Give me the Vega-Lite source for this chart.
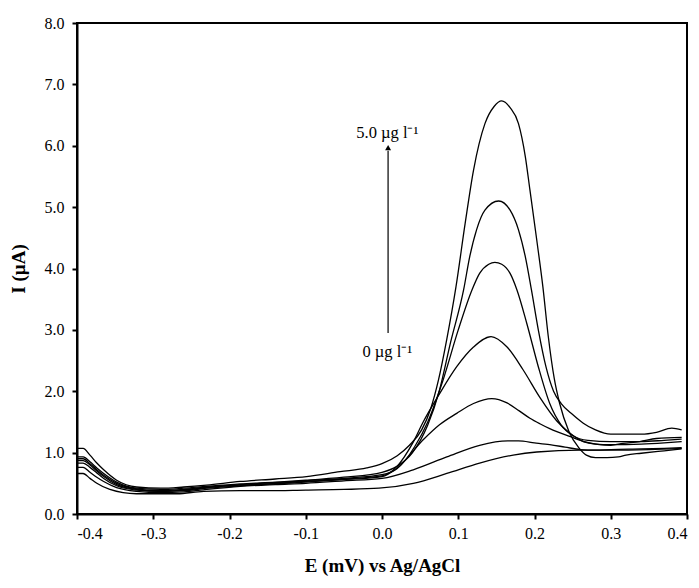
{
  "$schema": "https://vega.github.io/schema/vega-lite/v6.json",
  "width": 610,
  "height": 491,
  "autosize": "none",
  "padding": {"left": 77, "top": 23, "right": 12, "bottom": 74},
  "background": "white",
  "config": {
    "view": {"stroke": "black", "strokeWidth": 2},
    "font": "Liberation Serif",
    "axis": {
      "grid": false,
      "domainColor": "black",
      "domainWidth": 2,
      "tickColor": "black",
      "tickWidth": 2,
      "tickSize": 5,
      "labelFont": "Liberation Serif",
      "labelFontSize": 16,
      "labelColor": "black",
      "titleFont": "Liberation Serif",
      "titleFontSize": 19,
      "titleFontWeight": "bold",
      "titleColor": "black"
    }
  },
  "datasets": {
    "curves": [
      {"c":"C6","E":-0.4,"I":1.07},{"c":"C6","E":-0.392,"I":1.07},{"c":"C6","E":-0.383,"I":0.96},{"c":"C6","E":-0.374,"I":0.83},{"c":"C6","E":-0.365,"I":0.72},{"c":"C6","E":-0.348,"I":0.55},{"c":"C6","E":-0.322,"I":0.44},{"c":"C6","E":-0.29,"I":0.42},{"c":"C6","E":-0.26,"I":0.44},{"c":"C6","E":-0.23,"I":0.47},{"c":"C6","E":-0.186,"I":0.53},{"c":"C6","E":-0.14,"I":0.57},{"c":"C6","E":-0.099,"I":0.61},{"c":"C6","E":-0.055,"I":0.69},{"c":"C6","E":-0.02,"I":0.75},{"c":"C6","E":0.0,"I":0.82},{"c":"C6","E":0.02,"I":0.95},{"c":"C6","E":0.036,"I":1.12},{"c":"C6","E":0.052,"I":1.37},{"c":"C6","E":0.064,"I":1.72},{"c":"C6","E":0.074,"I":2.18},{"c":"C6","E":0.085,"I":2.85},{"c":"C6","E":0.097,"I":3.7},{"c":"C6","E":0.109,"I":4.73},{"c":"C6","E":0.12,"I":5.6},{"c":"C6","E":0.135,"I":6.36},{"c":"C6","E":0.147,"I":6.64},{"c":"C6","E":0.157,"I":6.73},{"c":"C6","E":0.168,"I":6.62},{"c":"C6","E":0.179,"I":6.36},{"c":"C6","E":0.188,"I":5.82},{"c":"C6","E":0.194,"I":5.28},{"c":"C6","E":0.203,"I":4.46},{"c":"C6","E":0.211,"I":3.7},{"c":"C6","E":0.218,"I":2.9},{"c":"C6","E":0.226,"I":2.2},{"c":"C6","E":0.233,"I":1.8},{"c":"C6","E":0.245,"I":1.35},{"c":"C6","E":0.258,"I":1.08},{"c":"C6","E":0.268,"I":0.96},{"c":"C6","E":0.28,"I":0.92},{"c":"C6","E":0.295,"I":0.92},{"c":"C6","E":0.31,"I":0.93},{"c":"C6","E":0.32,"I":0.96},{"c":"C6","E":0.34,"I":0.99},{"c":"C6","E":0.37,"I":1.03},{"c":"C6","E":0.393,"I":1.06},

      {"c":"C5","E":-0.4,"I":0.93},{"c":"C5","E":-0.392,"I":0.93},{"c":"C5","E":-0.383,"I":0.85},{"c":"C5","E":-0.374,"I":0.75},{"c":"C5","E":-0.365,"I":0.66},{"c":"C5","E":-0.348,"I":0.52},{"c":"C5","E":-0.322,"I":0.42},{"c":"C5","E":-0.29,"I":0.4},{"c":"C5","E":-0.26,"I":0.42},{"c":"C5","E":-0.23,"I":0.45},{"c":"C5","E":-0.186,"I":0.49},{"c":"C5","E":-0.14,"I":0.52},{"c":"C5","E":-0.1,"I":0.55},{"c":"C5","E":-0.05,"I":0.6},{"c":"C5","E":0.0,"I":0.68},{"c":"C5","E":0.02,"I":0.78},{"c":"C5","E":0.04,"I":1.0},{"c":"C5","E":0.06,"I":1.45},{"c":"C5","E":0.075,"I":2.0},{"c":"C5","E":0.09,"I":2.8},{"c":"C5","E":0.107,"I":3.65},{"c":"C5","E":0.115,"I":4.19},{"c":"C5","E":0.124,"I":4.63},{"c":"C5","E":0.135,"I":4.95},{"c":"C5","E":0.153,"I":5.1},{"c":"C5","E":0.168,"I":4.95},{"c":"C5","E":0.179,"I":4.63},{"c":"C5","E":0.188,"I":4.19},{"c":"C5","E":0.196,"I":3.65},{"c":"C5","E":0.205,"I":3.0},{"c":"C5","E":0.215,"I":2.4},{"c":"C5","E":0.225,"I":2.0},{"c":"C5","E":0.235,"I":1.8},{"c":"C5","E":0.25,"I":1.62},{"c":"C5","E":0.264,"I":1.48},{"c":"C5","E":0.28,"I":1.37},{"c":"C5","E":0.3,"I":1.3},{"c":"C5","E":0.34,"I":1.3},{"c":"C5","E":0.36,"I":1.33},{"c":"C5","E":0.38,"I":1.4},{"c":"C5","E":0.393,"I":1.37},

      {"c":"C4","E":-0.4,"I":0.9},{"c":"C4","E":-0.392,"I":0.9},{"c":"C4","E":-0.383,"I":0.82},{"c":"C4","E":-0.374,"I":0.72},{"c":"C4","E":-0.365,"I":0.63},{"c":"C4","E":-0.348,"I":0.5},{"c":"C4","E":-0.322,"I":0.41},{"c":"C4","E":-0.29,"I":0.38},{"c":"C4","E":-0.26,"I":0.4},{"c":"C4","E":-0.23,"I":0.44},{"c":"C4","E":-0.186,"I":0.48},{"c":"C4","E":-0.14,"I":0.51},{"c":"C4","E":-0.1,"I":0.54},{"c":"C4","E":-0.05,"I":0.58},{"c":"C4","E":0.0,"I":0.64},{"c":"C4","E":0.02,"I":0.74},{"c":"C4","E":0.043,"I":1.1},{"c":"C4","E":0.06,"I":1.5},{"c":"C4","E":0.08,"I":2.18},{"c":"C4","E":0.1,"I":3.0},{"c":"C4","E":0.118,"I":3.65},{"c":"C4","E":0.128,"I":3.92},{"c":"C4","E":0.14,"I":4.07},{"c":"C4","E":0.148,"I":4.1},{"c":"C4","E":0.157,"I":4.07},{"c":"C4","E":0.168,"I":3.92},{"c":"C4","E":0.177,"I":3.65},{"c":"C4","E":0.19,"I":3.1},{"c":"C4","E":0.205,"I":2.4},{"c":"C4","E":0.22,"I":1.8},{"c":"C4","E":0.235,"I":1.45},{"c":"C4","E":0.25,"I":1.28},{"c":"C4","E":0.27,"I":1.2},{"c":"C4","E":0.3,"I":1.18},{"c":"C4","E":0.34,"I":1.18},{"c":"C4","E":0.37,"I":1.2},{"c":"C4","E":0.393,"I":1.22},

      {"c":"C3","E":-0.4,"I":0.87},{"c":"C3","E":-0.392,"I":0.87},{"c":"C3","E":-0.383,"I":0.8},{"c":"C3","E":-0.374,"I":0.7},{"c":"C3","E":-0.365,"I":0.61},{"c":"C3","E":-0.348,"I":0.48},{"c":"C3","E":-0.322,"I":0.4},{"c":"C3","E":-0.29,"I":0.37},{"c":"C3","E":-0.26,"I":0.39},{"c":"C3","E":-0.23,"I":0.43},{"c":"C3","E":-0.186,"I":0.47},{"c":"C3","E":-0.14,"I":0.5},{"c":"C3","E":-0.1,"I":0.53},{"c":"C3","E":-0.05,"I":0.57},{"c":"C3","E":0.0,"I":0.62},{"c":"C3","E":0.02,"I":0.78},{"c":"C3","E":0.04,"I":1.15},{"c":"C3","E":0.054,"I":1.5},{"c":"C3","E":0.075,"I":1.95},{"c":"C3","E":0.098,"I":2.4},{"c":"C3","E":0.12,"I":2.72},{"c":"C3","E":0.143,"I":2.89},{"c":"C3","E":0.164,"I":2.72},{"c":"C3","E":0.185,"I":2.35},{"c":"C3","E":0.207,"I":1.9},{"c":"C3","E":0.229,"I":1.52},{"c":"C3","E":0.247,"I":1.31},{"c":"C3","E":0.264,"I":1.18},{"c":"C3","E":0.28,"I":1.14},{"c":"C3","E":0.3,"I":1.13},{"c":"C3","E":0.34,"I":1.14},{"c":"C3","E":0.37,"I":1.16},{"c":"C3","E":0.393,"I":1.18},

      {"c":"C2","E":-0.4,"I":0.83},{"c":"C2","E":-0.392,"I":0.83},{"c":"C2","E":-0.383,"I":0.76},{"c":"C2","E":-0.374,"I":0.67},{"c":"C2","E":-0.365,"I":0.58},{"c":"C2","E":-0.348,"I":0.46},{"c":"C2","E":-0.322,"I":0.39},{"c":"C2","E":-0.29,"I":0.37},{"c":"C2","E":-0.26,"I":0.38},{"c":"C2","E":-0.23,"I":0.42},{"c":"C2","E":-0.186,"I":0.46},{"c":"C2","E":-0.14,"I":0.49},{"c":"C2","E":-0.1,"I":0.52},{"c":"C2","E":-0.05,"I":0.56},{"c":"C2","E":0.0,"I":0.61},{"c":"C2","E":0.02,"I":0.75},{"c":"C2","E":0.054,"I":1.21},{"c":"C2","E":0.075,"I":1.45},{"c":"C2","E":0.098,"I":1.64},{"c":"C2","E":0.12,"I":1.8},{"c":"C2","E":0.144,"I":1.88},{"c":"C2","E":0.164,"I":1.81},{"c":"C2","E":0.18,"I":1.68},{"c":"C2","E":0.194,"I":1.56},{"c":"C2","E":0.207,"I":1.47},{"c":"C2","E":0.22,"I":1.39},{"c":"C2","E":0.247,"I":1.26},{"c":"C2","E":0.268,"I":1.17},{"c":"C2","E":0.285,"I":1.13},{"c":"C2","E":0.3,"I":1.12},{"c":"C2","E":0.316,"I":1.15},{"c":"C2","E":0.338,"I":1.18},{"c":"C2","E":0.36,"I":1.23},{"c":"C2","E":0.393,"I":1.25},

      {"c":"C1","E":-0.4,"I":0.76},{"c":"C1","E":-0.392,"I":0.76},{"c":"C1","E":-0.383,"I":0.68},{"c":"C1","E":-0.374,"I":0.6},{"c":"C1","E":-0.365,"I":0.53},{"c":"C1","E":-0.348,"I":0.43},{"c":"C1","E":-0.322,"I":0.37},{"c":"C1","E":-0.29,"I":0.35},{"c":"C1","E":-0.26,"I":0.36},{"c":"C1","E":-0.23,"I":0.4},{"c":"C1","E":-0.186,"I":0.45},{"c":"C1","E":-0.14,"I":0.48},{"c":"C1","E":-0.1,"I":0.5},{"c":"C1","E":-0.05,"I":0.54},{"c":"C1","E":0.0,"I":0.58},{"c":"C1","E":0.041,"I":0.72},{"c":"C1","E":0.085,"I":0.93},{"c":"C1","E":0.128,"I":1.12},{"c":"C1","E":0.165,"I":1.19},{"c":"C1","E":0.179,"I":1.19},{"c":"C1","E":0.2,"I":1.16},{"c":"C1","E":0.22,"I":1.13},{"c":"C1","E":0.24,"I":1.09},{"c":"C1","E":0.26,"I":1.05},{"c":"C1","E":0.28,"I":1.04},{"c":"C1","E":0.3,"I":1.05},{"c":"C1","E":0.34,"I":1.06},{"c":"C1","E":0.37,"I":1.07},{"c":"C1","E":0.393,"I":1.08},

      {"c":"C0","E":-0.4,"I":0.66},{"c":"C0","E":-0.392,"I":0.66},{"c":"C0","E":-0.383,"I":0.58},{"c":"C0","E":-0.374,"I":0.5},{"c":"C0","E":-0.357,"I":0.4},{"c":"C0","E":-0.322,"I":0.33},{"c":"C0","E":-0.269,"I":0.33},{"c":"C0","E":-0.234,"I":0.37},{"c":"C0","E":-0.186,"I":0.38},{"c":"C0","E":-0.15,"I":0.38},{"c":"C0","E":-0.1,"I":0.39},{"c":"C0","E":-0.05,"I":0.4},{"c":"C0","E":-0.004,"I":0.42},{"c":"C0","E":0.041,"I":0.5},{"c":"C0","E":0.085,"I":0.66},{"c":"C0","E":0.128,"I":0.83},{"c":"C0","E":0.172,"I":0.96},{"c":"C0","E":0.203,"I":1.01},{"c":"C0","E":0.26,"I":1.04},{"c":"C0","E":0.3,"I":1.04},{"c":"C0","E":0.35,"I":1.05},{"c":"C0","E":0.393,"I":1.07}
    ],
    "arrow": [{"E": 0.008, "I": 2.95, "I2": 5.92}],
    "tip": [{"E": 0.008, "I": 5.97}],
    "labels": [
      {"E": 0.007, "I": 6.2, "label": "5.0 µg l⁻¹"},
      {"E": 0.007, "I": 2.64, "label": "0 µg l⁻¹"}
    ]
  },
  "layer": [
    {
      "data": {"name": "curves"},
      "mark": {"type": "line", "color": "black", "strokeWidth": 1.3, "interpolate": "monotone"},
      "encoding": {
        "x": {"field": "E", "type": "quantitative",
          "scale": {"domain": [-0.4, 0.4], "nice": false, "zero": false},
          "axis": {"values": [-0.4,-0.3,-0.2,-0.1,0,0.1,0.2,0.3,0.4], "labelExpr": "replace(format(datum.value, '.1f'), '\u2212', '-')", "labelPadding": 6, "title": "E (mV) vs Ag/AgCl", "titlePadding": 15}},
        "y": {"field": "I", "type": "quantitative",
          "scale": {"domain": [0, 8], "nice": false},
          "axis": {"values": [0,1,2,3,4,5,6,7,8], "format": ".1f", "labelPadding": 8, "title": "I (µA)", "titleX": -59, "titleBaseline": "middle"}},
        "detail": {"field": "c"}
      }
    },
    {
      "data": {"name": "arrow"},
      "mark": {"type": "rule", "color": "#333333", "strokeWidth": 1.5},
      "encoding": {
        "x": {"field": "E", "type": "quantitative"},
        "y": {"field": "I", "type": "quantitative"},
        "y2": {"field": "I2"}
      }
    },
    {
      "data": {"name": "tip"},
      "mark": {"type": "point", "shape": "triangle-up", "filled": true, "color": "black", "size": 35, "opacity": 1},
      "encoding": {
        "x": {"field": "E", "type": "quantitative"},
        "y": {"field": "I", "type": "quantitative"}
      }
    },
    {
      "data": {"name": "labels"},
      "mark": {"type": "text", "font": "Liberation Serif", "fontSize": 16.5, "color": "black", "align": "center", "baseline": "middle"},
      "encoding": {
        "x": {"field": "E", "type": "quantitative"},
        "y": {"field": "I", "type": "quantitative"},
        "text": {"field": "label"}
      }
    }
  ]
}
